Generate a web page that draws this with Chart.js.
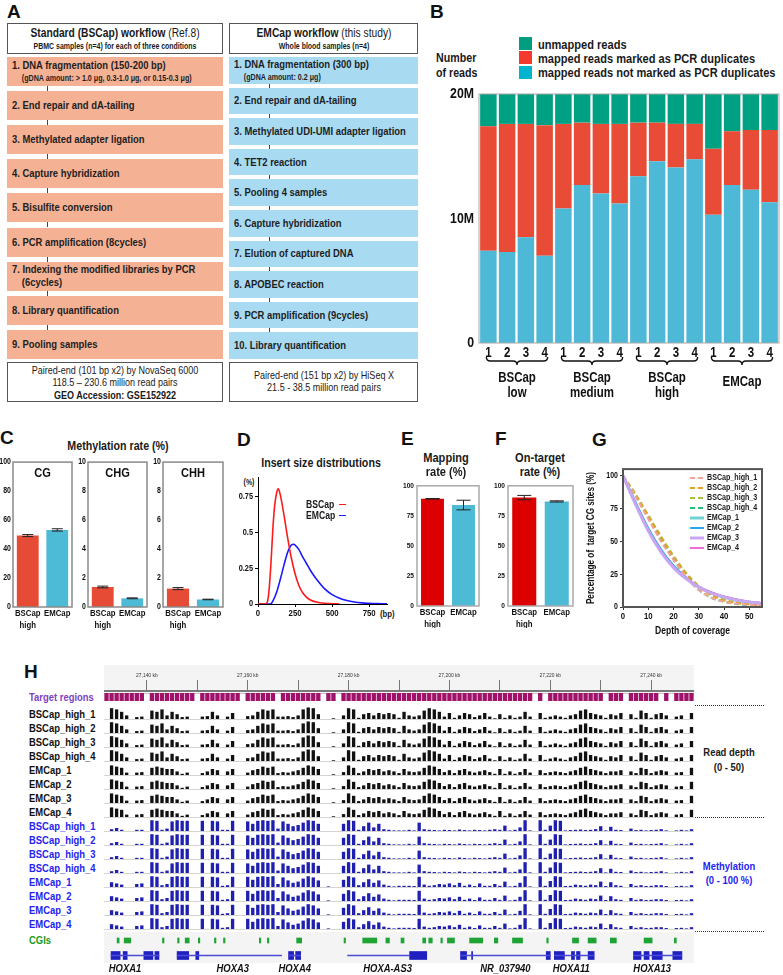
<!DOCTYPE html>
<html><head><meta charset="utf-8"><title>EMCap figure</title>
<script src="https://cdn.jsdelivr.net/npm/chart.js@4.4.1/dist/chart.umd.min.js"></script>
<style>
html,body{margin:0;padding:0;background:#fff}
body{width:783px;height:975px;position:relative;overflow:hidden;font-family:"Liberation Sans",Arial,sans-serif;color:#1a1a1a;font-weight:bold}
.a{position:absolute;white-space:nowrap}
.c{transform:translate(-50%,-50%) scaleX(.82)}
.l{transform-origin:0 50%;transform:translate(0,-50%) scaleX(.82)}
.pl{position:absolute;font-family:"Liberation Sans",Arial,sans-serif;font-weight:bold;font-size:19px;line-height:19px;color:#111}
canvas{position:absolute}
.box{position:absolute;box-sizing:border-box;border:1.5px solid #555;background:#fff}
.step{position:absolute;box-sizing:border-box;display:flex;flex-direction:column;justify-content:center;padding-left:5px;font-weight:bold;font-size:11.5px;line-height:13px;color:#1e1e1e;white-space:nowrap}
.step > div{transform:scaleX(.82);transform-origin:0 50%}
.conn{position:absolute;width:1px;background:#444}
.dot{position:absolute;height:0;border-top:1px dotted #333}
</style></head><body>
<script>
// ======================= DATA =======================
// Panel A (workflow text)
const stepsBSCap = [
  ['1. DNA fragmentation (150-200 bp)', '(gDNA amount: > 1.0 μg, 0.3-1.0 μg, or 0.15-0.3 μg)'],
  ['2. End repair and dA-tailing'],
  ['3. Methylated adapter ligation'],
  ['4. Capture hybridization'],
  ['5. Bisulfite conversion'],
  ['6. PCR amplification (8cycles)'],
  ['7. Indexing the modified libraries by PCR', '(6cycles)'],
  ['8. Library quantification'],
  ['9. Pooling samples']];
const stepsEMCap = [
  ['1. DNA fragmentation (300 bp)', '(gDNA amount: 0.2 μg)'],
  ['2. End repair and dA-tailing'],
  ['3. Methylated UDI-UMI adapter ligation'],
  ['4. TET2 reaction'],
  ['5. Pooling 4 samples'],
  ['6. Capture hybridization'],
  ['7. Elution of captured DNA'],
  ['8. APOBEC reaction'],
  ['9. PCR amplification (9cycles)'],
  ['10. Library quantification']];

// Panel B: number of reads (millions)
const bSampleLabels = ['1','2','3','4','1','2','3','4','1','2','3','4','1','2','3','4'];
const bGroupLabels = [['BSCap','low'],['BSCap','medium'],['BSCap','high'],['EMCap']];
const bNotDup   = [7.4,7.3,8.5,7.0, 10.8,12.7,12.0,11.2, 13.4,14.6,14.1,14.75, 10.3,12.7,12.3,11.3];
const bDup      = [10.0,10.3,9.1,10.5, 6.8,5.0,5.6,6.4, 4.3,3.1,3.5,2.85, 5.3,4.3,4.8,5.8];
const bUnmapped = [2.6,2.4,2.4,2.5, 2.4,2.3,2.4,2.4, 2.3,2.3,2.4,2.4, 4.4,3.0,2.9,2.9];

// Panel C: methylation rate (%)
const cCategories = [['BSCap','high'],'EMCap'];
const cgMean = [49.3,53.2],  cgErr = [0.7,0.8];
const chgMean = [1.38,0.6],  chgErr = [0.06,0.03];
const chhMean = [1.27,0.52], chhErr = [0.07,0.02];

// Panel D: insert size distributions
const dBSCapX = [0,50,60,75,90,100,112,125,137,150,175,200,225,250,275,300,325,350,400,450,500,550];
const dBSCapY = [0,0,0.005,0.1,0.33,0.52,0.68,0.77,0.80,0.76,0.62,0.46,0.32,0.21,0.13,0.08,0.05,0.03,0.012,0.005,0.002,0];
const dEMCapX = [0,75,90,100,125,150,175,200,225,240,250,275,300,325,350,375,400,450,500,550,600,650,700,750,800,870];
const dEMCapY = [0,0,0.005,0.02,0.08,0.17,0.27,0.36,0.41,0.415,0.41,0.38,0.33,0.285,0.24,0.2,0.165,0.105,0.065,0.04,0.024,0.014,0.008,0.005,0.003,0.001];

// Panels E, F
const efCategories = [['BSCap','high'],'EMCap'];
const eMean = [89.2,84.0], eErr = [0.2,4.0];
const fMean = [90.2,87.0], fErr = [1.8,0.5];

// Panel G: coverage
const gDepth = [0,5,10,15,20,25,30,35,40,45,50,55];
const gSeriesNames = ['BSCap_high_1','BSCap_high_2','BSCap_high_3','BSCap_high_4','EMCap_1','EMCap_2','EMCap_3','EMCap_4'];
const gBS1 = [100,84,67,50,36,23,13,7,4,2.5,1.5,1];
const gBS2 = [100,85,69,53,38,25,15,9,5,3,2,1.2];
const gBS3 = [100,86,70,54,39,26,16,9.5,5.5,3.3,2,1.3];
const gBS4 = [100,84.5,68,51,36,23,13,7,4,2.3,1.4,0.8];
const gEM1 = [100,79,59,43,31,22,15,10.5,7.5,5.2,3.7,2.6];
const gEM2 = [100,79.5,60,44,31.5,22.5,15.5,11,7.8,5.5,3.9,2.8];
const gEM3 = [100,78,58,42,30,21.5,15,10.5,7.5,5.3,3.8,2.7];
const gEM4 = [100,78.5,58.5,42.5,30.5,22,15.5,11,8,5.7,4.1,3];

// Panel H: genome browser (1-kb bins from 27,131.5 kb)
const hStartKb = 27131.5, hEndKb = 27248.5;
const rulerTicksKb = [27140,27150,27160,27170,27180,27190,27200,27210,27220,27230,27240];
const targetBins = [1,1,1,1,1,1,1,1,0,1,1,1,1,1,1,1,1,1,0,1,1,1,1,1,1,1,1,0,1,1,1,1,1,1,0,1,1,1,1,1,1,1,1,0,1,1,0,1,1,1,1,1,1,1,1,1,1,1,1,1,1,1,1,1,1,1,1,1,1,1,1,1,1,1,1,1,1,1,1,1,1,1,1,1,1,0,1,0,1,1,1,1,1,1,1,1,1,1,1,0,1,1,1,0,1,1,1,1,1,1,0,1,0,1,1,1,1];
const depthBSCap = [0,45,40,30,15,0,8,10,0,35,30,40,15,30,20,8,10,0,0,10,12,30,15,0,10,25,0,0,12,15,30,40,35,40,10,10,12,8,15,40,48,45,20,0,0,3,0,15,45,40,5,20,25,15,25,20,25,20,5,30,15,10,15,35,45,40,30,10,25,5,15,25,20,8,15,25,10,3,20,5,15,5,10,30,10,0,25,5,10,15,10,5,15,20,35,40,25,20,15,5,20,15,25,0,20,5,35,25,5,20,25,15,0,10,15,0,25];
const depthEMCap = [0,40,35,30,10,0,10,12,0,30,35,30,25,25,15,5,10,0,0,8,15,25,20,0,15,25,0,0,10,20,25,35,30,35,8,12,10,15,20,30,40,35,25,0,0,3,0,12,40,30,8,15,25,20,25,15,20,15,8,25,15,12,15,30,40,35,25,12,20,8,20,25,15,10,15,20,12,5,25,5,15,5,12,25,10,0,20,8,12,15,12,8,15,20,30,35,25,20,15,8,15,15,20,0,15,8,30,25,8,15,20,15,0,10,12,0,30];
const methBSCap = [0,15,25,10,0,0,10,10,0,90,85,10,20,80,90,85,85,0,0,85,0,85,80,10,10,85,0,0,80,60,85,90,85,90,20,80,60,40,50,70,90,85,60,0,0,0,0,60,90,85,10,40,70,30,60,15,10,5,5,5,10,5,70,15,10,8,5,10,8,5,12,8,5,10,8,5,10,15,10,45,5,10,30,90,5,0,90,10,45,90,85,5,8,10,12,8,10,15,40,5,35,10,8,0,20,8,10,5,8,10,15,5,0,5,10,5,15];
const methEMCap = [0,40,30,20,0,0,25,30,0,90,85,15,25,85,90,85,85,0,0,85,0,85,80,10,15,85,0,0,85,60,85,90,85,90,25,80,55,35,45,70,90,80,55,0,5,0,0,60,90,80,15,40,65,35,55,20,10,5,10,10,10,8,85,20,10,15,25,20,30,15,35,10,20,8,30,10,10,25,10,45,5,10,35,90,5,0,90,10,50,90,85,8,10,20,15,10,20,15,45,8,40,15,10,0,25,10,15,8,10,15,15,8,0,8,10,5,15];
const cgiStartKb = [27134.1,27135.5,27143.1,27146.1,27147.6,27150.2,27153.4,27155.2,27162.3,27163.9,27169.7,27179.1,27182.8,27187.4,27190.4,27194.7,27195.9,27198.3,27199.6,27204.0,27208.9,27212.5,27219.3,27224.4,27227.5,27231.9,27238.6,27244.6];
const cgiEndKb   = [27134.5,27136.8,27143.4,27146.4,27148.4,27150.5,27153.7,27155.5,27162.6,27164.2,27170.7,27179.4,27185.6,27188.1,27191.0,27195.3,27196.6,27198.6,27201.0,27206.6,27209.6,27214.5,27219.6,27225.6,27229.1,27233.1,27240.2,27245.0];
const intronStartKb = [27132.9,27146.0,27168.1,27179.8,27202.2,27220.8,27236.5];
const intronEndKb   = [27142.4,27166.7,27170.5,27192.1,27220.0,27228.7,27246.1];
const exonStartKb = [27132.9,27135.3,27139.4,27141.6,27146.0,27149.7,27168.1,27169.5,27192.1,27202.2,27204.4,27219.2,27220.8,27224.2,27225.2,27227.5,27236.5,27238.6,27240.2,27244.3];
const exonEndKb   = [27134.7,27136.1,27141.2,27142.4,27148.3,27150.3,27169.1,27170.5,27195.5,27203.4,27204.6,27220.0,27222.8,27224.8,27225.9,27228.7,27238.0,27239.6,27242.2,27246.1];
const geneNames   = ['HOXA1','HOXA3','HOXA4','HOXA-AS3','NR_037940','HOXA11','HOXA13'];
const geneLabelKb = [27135.66,27157.04,27169.32,27187.74,27211.1,27224.17,27240.21];
const hRowNames = ['BSCap_high_1','BSCap_high_2','BSCap_high_3','BSCap_high_4','EMCap_1','EMCap_2','EMCap_3','EMCap_4'];

// ======================= HELPERS =======================
const FONT = '"Liberation Sans",Arial,sans-serif';
const NARROW = 0.82; // horizontal condensing to imitate Arial Narrow
const RED = '#e64b35', BLUE = '#4dbad6', RED2 = '#dd0000';
(function(){
  const P = CanvasRenderingContext2D.prototype, _fill = P.fillText, _meas = P.measureText;
  P.fillText = function(t, x, y){ this.save(); this.translate(x, y); this.scale(NARROW, 1); _fill.call(this, t, 0, 0); this.restore(); };
  P.measureText = function(t){ const m = _meas.call(this, t);
    return {width:m.width*NARROW, actualBoundingBoxAscent:m.actualBoundingBoxAscent, actualBoundingBoxDescent:m.actualBoundingBoxDescent,
            actualBoundingBoxLeft:m.actualBoundingBoxLeft*NARROW, actualBoundingBoxRight:m.actualBoundingBoxRight*NARROW}; };
})();
function el(html, x, y, cls, style){
  const d = document.createElement('div'); d.className = 'a ' + (cls||''); d.innerHTML = html;
  d.style.left = x + 'px'; d.style.top = y + 'px'; if (style) d.style.cssText += style;
  document.body.appendChild(d); return d;
}
function mk(x,y,w,h){
  const c = document.createElement('canvas'); c.width = w; c.height = h;
  c.style.left = x+'px'; c.style.top = y+'px'; c.style.width = w+'px'; c.style.height = h+'px';
  document.body.appendChild(c); return c;
}
Chart.defaults.font.family = FONT;
Chart.defaults.font.weight = 'bold';
Chart.defaults.color = '#111';
Chart.defaults.animation = false;
Chart.defaults.responsive = false;
Chart.defaults.maintainAspectRatio = false;
Chart.defaults.events = [];
Chart.defaults.plugins.legend.display = false;
Chart.defaults.plugins.tooltip.enabled = false;

const framePlugin = {id:'frame', afterDatasetsDraw(chart, args, o){
  if (!o || !o.color) return; const a = chart.chartArea, ctx = chart.ctx;
  ctx.save(); ctx.strokeStyle = o.color; ctx.lineWidth = o.width || 1;
  ctx.strokeRect(a.left, a.top, a.right-a.left, a.bottom-a.top); ctx.restore();
}};
const errPlugin = {id:'errbars', afterDatasetsDraw(chart){
  const ctx = chart.ctx;
  chart.data.datasets.forEach((ds, di) => {
    if (!ds.errors) return;
    const meta = chart.getDatasetMeta(di), ys = chart.scales.y;
    meta.data.forEach((bar, i) => {
      const v = ds.data[i], e = ds.errors[i], x = bar.x, cw = ds.capWidth || 10;
      const y1 = ys.getPixelForValue(v+e), y2 = ys.getPixelForValue(v-e);
      ctx.save(); ctx.strokeStyle = '#222'; ctx.lineWidth = 1; ctx.beginPath();
      ctx.moveTo(x, y1); ctx.lineTo(x, y2);
      ctx.moveTo(x-cw/2, y1); ctx.lineTo(x+cw/2, y1);
      ctx.moveTo(x-cw/2, y2); ctx.lineTo(x+cw/2, y2);
      ctx.stroke(); ctx.restore();
    });
  });
}};
const innerTitlePlugin = {id:'innerTitle', afterDraw(chart, args, o){
  if (!o || !o.text) return; const a = chart.chartArea, ctx = chart.ctx;
  ctx.save(); ctx.fillStyle = '#111'; ctx.font = 'bold 13.5px ' + FONT; ctx.textAlign = 'center'; ctx.textBaseline = 'middle';
  ctx.fillText(o.text, (a.left+a.right)/2, a.top + 11); ctx.restore();
}};
const bracePlugin = {id:'braces', afterDraw(chart, args, o){
  if (!o || !o.on) return; const ctx = chart.ctx, xs = chart.scales.x;
  ctx.save(); ctx.strokeStyle = '#111'; ctx.lineWidth = 1.4; ctx.fillStyle = '#111';
  ctx.textAlign = 'center'; ctx.textBaseline = 'middle'; ctx.font = 'bold 14px ' + FONT;
  bGroupLabels.forEach((lab, g) => {
    const x0 = xs.getPixelForTick(4*g) - 2, x1 = xs.getPixelForTick(4*g+3) + 3, m = (x0+x1)/2;
    const y0 = o.top, h = 8, r = 4;
    ctx.beginPath(); ctx.moveTo(x0, y0);
    ctx.quadraticCurveTo(x0, y0+h/2, x0+r, y0+h/2); ctx.lineTo(m-r, y0+h/2);
    ctx.quadraticCurveTo(m, y0+h/2, m, y0+h); ctx.quadraticCurveTo(m, y0+h/2, m+r, y0+h/2);
    ctx.lineTo(x1-r, y0+h/2); ctx.quadraticCurveTo(x1, y0+h/2, x1, y0); ctx.stroke();
    if (lab.length === 1) ctx.fillText(lab[0], m, o.single);
    else { ctx.fillText(lab[0], m, o.l1); ctx.fillText(lab[1], m, o.l2); }
  });
  ctx.restore();
}};
const geneLabelPlugin = {id:'geneLabels', afterDraw(chart, args, o){
  if (!o || !o.on) return; const ctx = chart.ctx, xs = chart.scales.x;
  ctx.save(); ctx.fillStyle = '#111'; ctx.font = 'italic bold 11.5px ' + FONT; ctx.textAlign = 'center'; ctx.textBaseline = 'middle';
  geneNames.forEach((n, i) => ctx.fillText(n, xs.getPixelForValue(geneLabelKb[i]), o.y));
  ctx.restore();
}};
Chart.register(framePlugin, errPlugin, innerTitlePlugin, bracePlugin, geneLabelPlugin);

// ======================= PANEL LABELS =======================
[['A',7,2],['B',430,2],['C',0,428],['D',237,430],['E',401,429],['F',495,429],['G',592,430],['H',24,662]]
  .forEach(([t,x,y]) => { const d = el(t, x, y); d.className = 'pl'; });

// ======================= PANEL A =======================
let hb = el('', 7, 23, '', 'width:216px;height:31px;'); hb.className = 'box';
hb = el('', 229, 23, '', 'width:189px;height:31px;'); hb.className = 'box';
el('Standard (BSCap) workflow <span style="font-weight:normal">(Ref.8)</span>', 115, 33, 'c', 'font-size:12.5px;');
el('PBMC samples (n=4) for each of three conditions', 115, 46, 'c', 'font-size:8.5px;');
el('EMCap workflow <span style="font-weight:normal">(this study)</span>', 323.5, 33, 'c', 'font-size:12.5px;');
el('Whole blood samples (n=4)', 323.5, 46, 'c', 'font-size:8.5px;');
function addSteps(steps, left, width, top0, dy, h, bg, connX){
  steps.forEach((s, i) => {
    const d = document.createElement('div'); d.className = 'step';
    Object.assign(d.style, {left:left+'px', top:(top0+i*dy)+'px', width:width+'px', height:h+'px', background:bg});
    s.forEach((t, k) => {
      const sp = document.createElement('div'); sp.textContent = t;
      if (k > 0) { sp.style.paddingLeft = '12px'; if (t.startsWith('(gDNA')) { sp.style.fontSize = '8.7px'; sp.style.lineHeight = '12px'; } }
      d.appendChild(sp);
    });
    document.body.appendChild(d);
    if (i < steps.length-1) {
      const c = document.createElement('div'); c.className = 'conn';
      Object.assign(c.style, {left:connX+'px', top:(top0+i*dy+h)+'px', height:(dy-h)+'px'});
      document.body.appendChild(c);
    }
  });
}
addSteps(stepsBSCap, 7, 216, 57, 34.1, 29, '#f5b194', 47);
addSteps(stepsEMCap, 229, 189, 57, 30.6, 26.5, '#a8daf2', 269);
hb = el('', 7, 362, '', 'width:216px;height:40px;'); hb.className = 'box';
hb = el('', 229, 362, '', 'width:189px;height:40px;'); hb.className = 'box';
el('Paired-end (101 bp x2) by NovaSeq 6000', 115, 370, 'c', 'font-size:11px;font-weight:normal;');
el('118.5 – 230.6 million read pairs', 115, 382, 'c', 'font-size:11px;font-weight:normal;');
el('GEO Accession: GSE152922', 115, 394.5, 'c', 'font-size:11px;');
el('Paired-end (151 bp x2) by HiSeq X', 323.5, 375, 'c', 'font-size:11px;font-weight:normal;');
el('21.5 - 38.5 million read pairs', 323.5, 387, 'c', 'font-size:11px;font-weight:normal;');

// ======================= PANEL B =======================
const chartB = new Chart(mk(430, 80, 353, 322), {
  type:'bar',
  data:{labels:bSampleLabels, datasets:[
    {label:'mapped reads not marked as PCR duplicates', data:bNotDup, backgroundColor:'#4db9d6', legendColor:'#00b4cf'},
    {label:'mapped reads marked as PCR duplicates', data:bDup, backgroundColor:'#e84c36', legendColor:'#f43a2e'},
    {label:'unmapped reads', data:bUnmapped, backgroundColor:'#00a083', legendColor:'#009e7e'}]},
  options:{
    layout:{padding:{top:9, right:4, left:0, bottom:0}},
    datasets:{bar:{barPercentage:0.88, categoryPercentage:1}},
    scales:{
      x:{stacked:true, grid:{display:false, drawTicks:false}, border:{display:false},
         ticks:{font:{size:14, weight:'bold'}, padding:2, maxRotation:0, autoSkip:false, color:'#111'}, afterFit(s){ s.height = 59; }},
      y:{stacked:true, min:0, max:20, grid:{display:false, drawTicks:false}, border:{display:false},
         ticks:{stepSize:10, font:{size:15, weight:'bold'}, padding:5, color:'#111', callback:v => v === 0 ? '0' : v + 'M'}, afterFit(s){ s.width = 49; }}},
    plugins:{frame:{color:'#a8a8a8', width:1}, braces:{on:true, top:277, l1:298, l2:313, single:302}}
  }});
el('Number', 436, 57, 'l', 'font-size:13px;');
el('of reads', 436, 72, 'l', 'font-size:13px;');
chartB.data.datasets.slice().reverse().forEach((ds, k) => {
  el('', 519, 37 + k*14.3, '', `width:13px;height:13px;background:${ds.legendColor};`);
  el(ds.label, 538, 43.5 + k*14.3, 'l', 'font-size:13.5px;');
});

// ======================= PANEL C =======================
el('Methylation rate (%)', 118, 445, 'c', 'font-size:13px;');
function methChart(x, w, title, mean, err, max, step){
  return new Chart(mk(x, 455, w, 175), {
    type:'bar',
    data:{labels:cCategories, datasets:[{data:mean, errors:err, capWidth:11, backgroundColor:[RED, BLUE], barPercentage:0.74, categoryPercentage:1}]},
    options:{
      layout:{padding:{top:6, right:1, left:0, bottom:0}},
      scales:{
        x:{grid:{display:false, drawTicks:false}, border:{display:false}, ticks:{font:{size:9.5, weight:'bold'}, padding:1, maxRotation:0, autoSkip:false, color:'#111'}, afterFit(s){ s.height = 23; }},
        y:{min:0, max:max, grid:{display:false, drawTicks:false}, border:{display:false}, ticks:{stepSize:step, font:{size:8.5, weight:'bold'}, padding:2, color:'#111'}, afterFit(s){ s.width = 13; }}},
      plugins:{frame:{color:'#8a8a8a', width:1.5}, innerTitle:{text:title}}
    }});
}
methChart(0, 73, 'CG', cgMean, cgErr, 100, 20);
methChart(75, 73, 'CHG', chgMean, chgErr, 10, 2);
methChart(150, 74, 'CHH', chhMean, chhErr, 10, 2);

// ======================= PANEL D =======================
el('Insert size distributions', 321, 462, 'c', 'font-size:13px;');
el('(%)', 249, 482, 'c', 'font-size:8.5px;');
el('(bp)', 379.5, 613, 'l', 'font-size:9.5px;');
const chartD = new Chart(mk(232, 470, 160, 150), {
  type:'line',
  data:{datasets:[
    {label:'BSCap', data:dBSCapX.map((x,i)=>({x, y:dBSCapY[i]})), borderColor:'#ff1a1a', borderWidth:1.6, pointRadius:0, cubicInterpolationMode:'monotone'},
    {label:'EMCap', data:dEMCapX.map((x,i)=>({x, y:dEMCapY[i]})), borderColor:'#1a1aff', borderWidth:1.6, pointRadius:0, cubicInterpolationMode:'monotone'}]},
  options:{
    layout:{padding:{top:1, right:5, left:0, bottom:0}},
    scales:{
      x:{type:'linear', min:0, max:870, grid:{drawOnChartArea:false, drawTicks:true, tickLength:3, color:'#000'}, border:{display:true, color:'#000'},
         ticks:{stepSize:250, includeBounds:false, font:{size:9.5, weight:'bold'}, padding:1, color:'#111', maxRotation:0}, afterFit(s){ s.height = 16; }},
      y:{min:0, max:0.88, grid:{drawOnChartArea:false, drawTicks:true, tickLength:3, color:'#000'}, border:{display:true, color:'#000'},
         ticks:{stepSize:0.25, includeBounds:false, font:{size:9, weight:'bold'}, padding:2, color:'#111', callback:v => String(Math.round(v*100)/100)}, afterFit(s){ s.width = 26; }}}
  }});
chartD.data.datasets.forEach((ds, k) => {
  el(ds.label, 306, 504 + k*11, 'l', 'font-size:10.5px;');
  el('', 339, 503.5 + k*11, '', `width:7px;height:1.6px;background:${ds.borderColor};`);
});

// ======================= PANELS E, F =======================
function rateChart(x, w, yw, mean, err){
  return new Chart(mk(x, 478, w, 150), {
    type:'bar',
    data:{labels:efCategories, datasets:[{data:mean, errors:err, capWidth:14, backgroundColor:[RED2, BLUE], barPercentage:0.74, categoryPercentage:1}]},
    options:{
      layout:{padding:{top:5, right:2, left:0, bottom:0}},
      scales:{
        x:{grid:{display:false, drawTicks:false}, border:{display:false}, ticks:{font:{size:9.5, weight:'bold'}, padding:1, maxRotation:0, autoSkip:false, color:'#111'}, afterFit(s){ s.height = 22; }},
        y:{min:0, max:100, grid:{display:false, drawTicks:false}, border:{display:false}, ticks:{stepSize:25, font:{size:8, weight:'bold'}, padding:3, color:'#111'}, afterFit(s){ s.width = yw; }}},
      plugins:{frame:{color:'#aaaaaa', width:1.5}}
    }});
}
el('Mapping', 446, 457, 'c', 'font-size:13.5px;');
el('rate (%)', 446, 471, 'c', 'font-size:13.5px;');
rateChart(395, 86, 22, eMean, eErr);
el('On-target', 540, 457, 'c', 'font-size:13.5px;');
el('rate (%)', 540, 471, 'c', 'font-size:13.5px;');
rateChart(485, 90, 23, fMean, fErr);

// ======================= PANEL G =======================
const gData = [gBS1, gBS2, gBS3, gBS4, gEM1, gEM2, gEM3, gEM4];
const gColors = ['#f4a39a','#e0a12a','#a6c23a','#1fc07a','#6fd3d3','#29a8f0','#c9a6f2','#f06bd6'];
const gWidths = [2,2,2,2,3,2,3,2];
const gOrder  = [3,4,5,6,8,7,1,2];
const chartG = new Chart(mk(585, 462, 183, 175), {
  type:'line',
  data:{datasets:gData.map((arr, i) => ({
    label:gSeriesNames[i], data:gDepth.map((d, k) => ({x:d, y:arr[k]})), borderColor:gColors[i], order:gOrder[i],
    borderWidth:gWidths[i], borderDash: i < 4 ? [5,3] : [], pointRadius:0, cubicInterpolationMode:'monotone'}))},
  options:{
    layout:{padding:{top:5, right:6, left:0, bottom:0}},
    scales:{
      x:{type:'linear', min:0, max:55, grid:{drawOnChartArea:false, drawTicks:true, tickLength:3, color:'#333'}, border:{display:false},
         ticks:{stepSize:10, includeBounds:false, font:{size:9.5, weight:'bold'}, padding:1, color:'#111', maxRotation:0},
         title:{display:true, text:'Depth of coverage', font:{size:10.5, weight:'bold'}, padding:{top:0, bottom:0}, color:'#111'}, afterFit(s){ s.height = 30; }},
      y:{min:0, max:105, grid:{drawOnChartArea:false, drawTicks:true, tickLength:3, color:'#333'}, border:{display:false},
         ticks:{stepSize:25, includeBounds:false, font:{size:8.5, weight:'bold'}, padding:2, color:'#111'},
         title:{display:true, text:'Percentage of  target CG sites (%)', font:{size:10, weight:'bold'}, padding:{top:0, bottom:1}, color:'#111'}, afterFit(s){ s.width = 38; }}},
    plugins:{frame:{color:'#555', width:2}}
  }});
chartG.data.datasets.forEach((ds, k) => {
  const y = 476.5 + k*10.1;
  el(`<svg width="14" height="4"><line x1="0" y1="2" x2="14" y2="2" stroke="${ds.borderColor}" stroke-width="${ds.borderWidth}" stroke-dasharray="${ds.borderDash.join(',')}"/></svg>`, 690, y-2, '', 'line-height:0;');
  el(ds.label, 707, y, 'l', 'font-size:8.7px;');
});

// ======================= PANEL H =======================
const binLabels = targetBins.map((_, i) => String(hStartKb + 0.5 + i));
el('', 104, 665, '', 'width:590px;height:28px;background:#f4f4f4;');
el('', 104, 932, '', 'width:590px;height:31px;background:#f4f4f4;');
el('', 104, 690, '', 'width:590px;height:2px;background:#7a7a7a;');
el('', 104, 693, '', 'width:590px;height:1px;background:#c8c8c8;');
new Chart(mk(104, 668, 590, 22), {
  type:'scatter', data:{datasets:[]},
  options:{
    layout:{padding:0},
    scales:{
      x:{type:'linear', position:'top', min:hStartKb, max:hEndKb, border:{display:false},
         grid:{drawOnChartArea:true, drawTicks:false, color:'#777', lineWidth:1},
         ticks:{font:{family:FONT, size:6, weight:'normal'}, color:'#333', padding:1, maxRotation:0, autoSkip:false,
                callback:v => (v % 20 === 0) ? v.toLocaleString('en-US') + ' kb' : ''},
         afterBuildTicks(s){ s.ticks = rulerTicksKb.map(v => ({value:v})); }, afterFit(s){ s.height = 12; }},
      y:{display:false, min:0, max:1}}
  }});
el('Target regions', 29, 697, 'l', 'font-size:11.5px;color:#7f3fbf;');
function trackChart(x, y, w, h, values, color, max, bp){
  return new Chart(mk(x, y, w, h), {
    type:'bar',
    data:{labels:binLabels, datasets:[{data:values, backgroundColor:color, barPercentage:bp, categoryPercentage:1}]},
    options:{layout:{padding:0}, scales:{x:{display:false}, y:{display:false, min:0, max:max}}}
  });
}
trackChart(104, 693, 590, 8, targetBins, '#a0126a', 1, 0.86);
for (let r = 0; r < 16; r++) {
  const meth = r >= 8, k = r % 8, em = k >= 4;
  const vals = meth ? (em ? methEMCap : methBSCap) : (em ? depthEMCap : depthBSCap);
  const base = 719 + 14*r;
  el('', 104, base, '', 'width:590px;height:1px;background:#d4d4d4;');
  trackChart(104, base - 12, 590, 12, vals, meth ? '#1f1fb0' : '#111', meth ? 100 : 50, 0.66);
  el(hRowNames[k], 29, 714 + 14*r, 'l', `font-size:11.5px;color:${meth ? '#2424f0' : '#111'};`);
}
el('CGIs', 29, 940, 'l', 'font-size:11.5px;color:#1a9a1a;');
new Chart(mk(104, 933, 590, 42), {
  type:'bar',
  data:{labels:['cgi','gene'], datasets:[
    {data:cgiStartKb.map((s,i)=>({y:'cgi', x:[s, cgiEndKb[i]]})), backgroundColor:'#1fa335', barThickness:5, grouped:false},
    {data:intronStartKb.map((s,i)=>({y:'gene', x:[s, intronEndKb[i]]})), backgroundColor:'#4a4ad8', barThickness:1, grouped:false},
    {data:exonStartKb.map((s,i)=>({y:'gene', x:[s, exonEndKb[i]]})), backgroundColor:'#2020c0', barThickness:8, grouped:false}]},
  options:{
    indexAxis:'y', layout:{padding:{bottom:12}},
    scales:{x:{type:'linear', display:false, min:hStartKb, max:hEndKb}, y:{display:false}},
    plugins:{geneLabels:{on:true, y:36}}
  }});
el('', 695, 705, 'dot', 'width:69px;');
el('', 695, 817, 'dot', 'width:69px;');
el('', 695, 931, 'dot', 'width:69px;');
el('Read depth', 729, 752, 'c', 'font-size:11.5px;');
el('(0 - 50)', 729, 767, 'c', 'font-size:11.5px;');
el('Methylation', 729, 866, 'c', 'font-size:11.5px;color:#2424f0;');
el('(0 - 100 %)', 729, 880, 'c', 'font-size:11.5px;color:#2424f0;');
</script>
</body></html>
